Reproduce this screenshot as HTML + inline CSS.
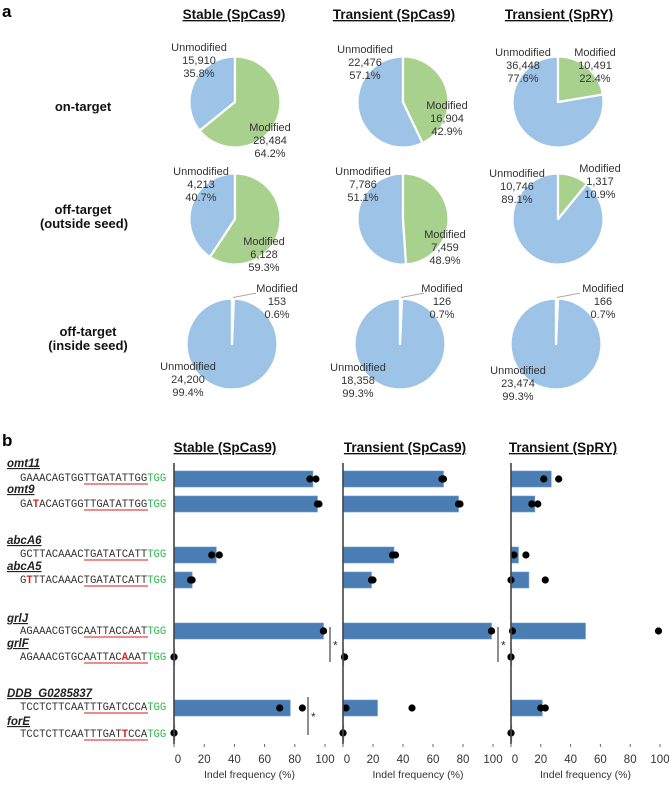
<!DOCTYPE html>
<html><head><meta charset="utf-8"><style>
body{margin:0;background:#fff}
svg text{font-family:"Liberation Sans",sans-serif}
svg text.mono{font-family:"Liberation Mono",monospace}
</style></head><body>
<svg id="fig" width="669" height="782" viewBox="0 0 669 782" xmlns="http://www.w3.org/2000/svg">
<text x="2" y="17" font-size="17" font-weight="bold">a</text>
<text x="2" y="446" font-size="17" font-weight="bold">b</text>
<g font-size="13.5" font-weight="bold" text-anchor="middle" text-decoration="underline" fill="#111">
<text x="234" y="19">Stable (SpCas9)</text>
<text x="394" y="19">Transient (SpCas9)</text>
<text x="559" y="19">Transient (SpRY)</text>
<text x="225" y="452">Stable (SpCas9)</text>
<text x="405" y="452">Transient (SpCas9)</text>
<text x="563" y="452">Transient (SpRY)</text>
</g>
<g font-size="13" font-weight="bold" text-anchor="middle" fill="#111">
<text x="83" y="111">on-target</text>
<text x="83" y="214">off-target</text>
<text x="84" y="228">(outside seed)</text>
<text x="88" y="336">off-target</text>
<text x="88" y="350">(inside seed)</text>
</g>
<g id="pies"></g>
<g id="pielabels" font-size="11" fill="#333" text-anchor="middle"></g>
<g id="seqs"></g>
<g id="bars"></g>
</svg>
<script>
// pie data: order stable-on, trans-on, spry-on, stable-out, trans-out, spry-out, stable-in, trans-in, spry-in
const modifiedCounts=[28484,16904,10491,6128,7459,1317,153,126,166];
const unmodifiedCounts=[15910,22476,36448,4213,7786,10746,24200,18358,23474];
const modifiedPct=["64.2%","42.9%","22.4%","59.3%","48.9%","10.9%","0.6%","0.7%","0.7%"];
const unmodifiedPct=["35.8%","57.1%","77.6%","40.7%","51.1%","89.1%","99.4%","99.3%","99.3%"];
// bar data
const categories=["omt11","omt9","abcA6","abcA5","grlJ","grlF","DDB_G0285837","forE"];
const stableBars=[92,95,28,12,99,0.5,77,0];
const stableDots=[[90,94],[95,96],[25,30],[11,12],[99,99],[0,0],[70,85],[0,0]];
const transBars=[67,77,34,19,99,0.5,23,0];
const transDots=[[66,67],[77,78],[33,35],[19,20],[99,99],[1,1],[2,46],[0,0]];
const spryBars=[27,16,5,12,50,0,21,0];
const spryDots=[[22,32],[14,18],[2,10],[0,23],[1,99],[0,0],[20,23],[0,0]];
const tickLabels=["0","20","40","60","80","100"];
const tickValues=[0,20,40,60,80,100];
const sequences=["GAAACAGTGGTTGATATTGGTGG","GATACAGTGGTTGATATTGGTGG","GCTTACAAACTGATATCATTTGG","GTTTACAAACTGATATCATTTGG","AGAAACGTGCAATTACCAATTGG","AGAAACGTGCAATTACAAATTGG","TCCTCTTCAATTTGATCCCATGG","TCCTCTTCAATTTGATTCCATGG"];
const mismatchIdx=[-1,2,-1,1,-1,16,-1,16];

const NS="http://www.w3.org/2000/svg";
function mk(tag,attrs,parent){const e=document.createElementNS(NS,tag);for(const k in attrs)e.setAttribute(k,attrs[k]);parent.appendChild(e);return e;}
const fmt=n=>n.toLocaleString('en-US');

const pieCx=[235,403,558,235,403,558,232,400,556];
const pieCy=[102,102,102,219,219,219,344,344,344];
const R=45.5;
const unmodPos=[[199,47],[365,49],[523,52],[201,171],[363,171],[517,173],[188,366],[358,367],[518,370]];
const modPos=[[270,127],[447,105],[595,52],[264,241],[445,234],[600,168],[277,288],[442,288],[603,288]];
const pies=document.getElementById('pies');
const pl=document.getElementById('pielabels');
function arc(cx,cy,r,a0,a1,fill,name){
  const p0=[cx+r*Math.sin(a0),cy-r*Math.cos(a0)],p1=[cx+r*Math.sin(a1),cy-r*Math.cos(a1)];
  const large=(a1-a0)>Math.PI?1:0;
  const e=mk('path',{d:`M${cx},${cy}L${p0[0]},${p0[1]}A${r},${r} 0 ${large} 1 ${p1[0]},${p1[1]}Z`,fill:fill,stroke:'#fff','stroke-width':2.2,'stroke-linejoin':'round'},pies);
  
  
}
for(let i=0;i<9;i++){
  const tot=modifiedCounts[i]+unmodifiedCounts[i];
  const a=2*Math.PI*modifiedCounts[i]/tot;
  arc(pieCx[i],pieCy[i],R,a,2*Math.PI,'#9dc3e6','pie-slice-unmodified');
  arc(pieCx[i],pieCy[i],R,0,a,'#a9d18e','pie-slice-modified');
  const lab=(pos,lines,name)=>{lines.forEach((t,j)=>{const e=mk('text',{x:pos[0],y:pos[1]+4+j*13},pl);e.textContent=t;
    
    });};
  lab(unmodPos[i],["Unmodified",fmt(unmodifiedCounts[i]),unmodifiedPct[i]],'unmodified-label');
  lab(modPos[i],["Modified",fmt(modifiedCounts[i]),modifiedPct[i]],'modified-label');
  if(i>=6){const l=mk('polyline',{points:`${pieCx[i]+1},${pieCy[i]-R-1} ${pieCx[i]+22},${pieCy[i]-R-5} ${pieCx[i]+24},${pieCy[i]-R-5}`,fill:'none',stroke:'#aaa','stroke-width':1},pies);
    
    }
}

const seqG=document.getElementById('seqs');
const geneY=[463,489,540,566,618,643,693,721];
const seqY=[477,503,553,579,630,656,706,733];
const CW=6.4;
categories.forEach((c,i)=>{
  const g=mk('text',{x:7,y:geneY[i]+4,'font-size':11.5,'font-weight':'bold','font-style':'italic','text-decoration':'underline',fill:'#222'},seqG);
  g.textContent=c;
  
  
  const t=mk('text',{x:20,y:seqY[i]+4,'font-size':10.6,'class':'mono',style:'font-family:"Liberation Mono",monospace',fill:'#333'},seqG);
  
  
  const s=sequences[i];
  for(let k=0;k<23;k++){const sp=mk('tspan',{},t);sp.textContent=s[k];
    if(k>=20)sp.setAttribute('fill','#2db84b');else if(k===mismatchIdx[i]){sp.setAttribute('fill','#e02020');sp.setAttribute('font-weight','bold');}}
  const u=mk('line',{x1:20+10*CW,x2:20+20*CW,y1:seqY[i]+7,y2:seqY[i]+7,stroke:'#e0474c','stroke-width':1.3},seqG);
  
  
});

const barsG=document.getElementById('bars');
const rowY=[479,504,555,580,631,657,708,733];
const panels=[{x0:174,x1:325,bars:stableBars,dots:stableDots,n:'stable'},{x0:343,x1:493,bars:transBars,dots:transDots,n:'transient'},{x0:511,x1:660,bars:spryBars,dots:spryDots,n:'spry'}];
panels.forEach(p=>{
  const sx=v=>p.x0+(p.x1-p.x0)*v/100;
  p.bars.forEach((v,i)=>{
    const r=mk('rect',{x:sx(0),y:rowY[i]-8,width:Math.max(sx(v)-sx(0),0.8),height:16,fill:'#4a7db3',stroke:'#6d9cc8','stroke-width':0.6},barsG);
    
    
  });
  p.dots.forEach((d,i)=>d.forEach(v=>{
    const c=mk('circle',{cx:sx(v),cy:rowY[i],r:3.6,fill:'#000'},barsG);
    
    
  }));
  const ax=mk('line',{x1:sx(0),x2:sx(0),y1:463,y2:744,stroke:'#444','stroke-width':1.6},barsG);
  
  
  tickValues.forEach((tv,j)=>{
    const tk=mk('line',{x1:sx(tv),x2:sx(tv),y1:744,y2:747,stroke:'#666','stroke-width':1},barsG);
    
    
    const tl=mk('text',{x:sx(tv)+(tv===0?4:0),y:763,'font-size':11.5,'text-anchor':'middle',fill:'#333'},barsG);
    tl.textContent=tickLabels[j];
    
    
  });
  const at=mk('text',{x:(p.x0+p.x1)/2,y:778,'font-size':10.5,'text-anchor':'middle',fill:'#333'},barsG);
  at.textContent='Indel frequency (%)';
  
  
});
[[330,627,662],[308,697,735],[498,627,662]].forEach(b=>{
  const l=mk('line',{x1:b[0],x2:b[0],y1:b[1],y2:b[2],stroke:'#222','stroke-width':1},barsG);
  
  
  const s=mk('text',{x:b[0]+3,y:(b[1]+b[2])/2+5,'font-size':12,fill:'#333'},barsG);
  s.textContent='*';
  
  
});
</script>
</body></html>
